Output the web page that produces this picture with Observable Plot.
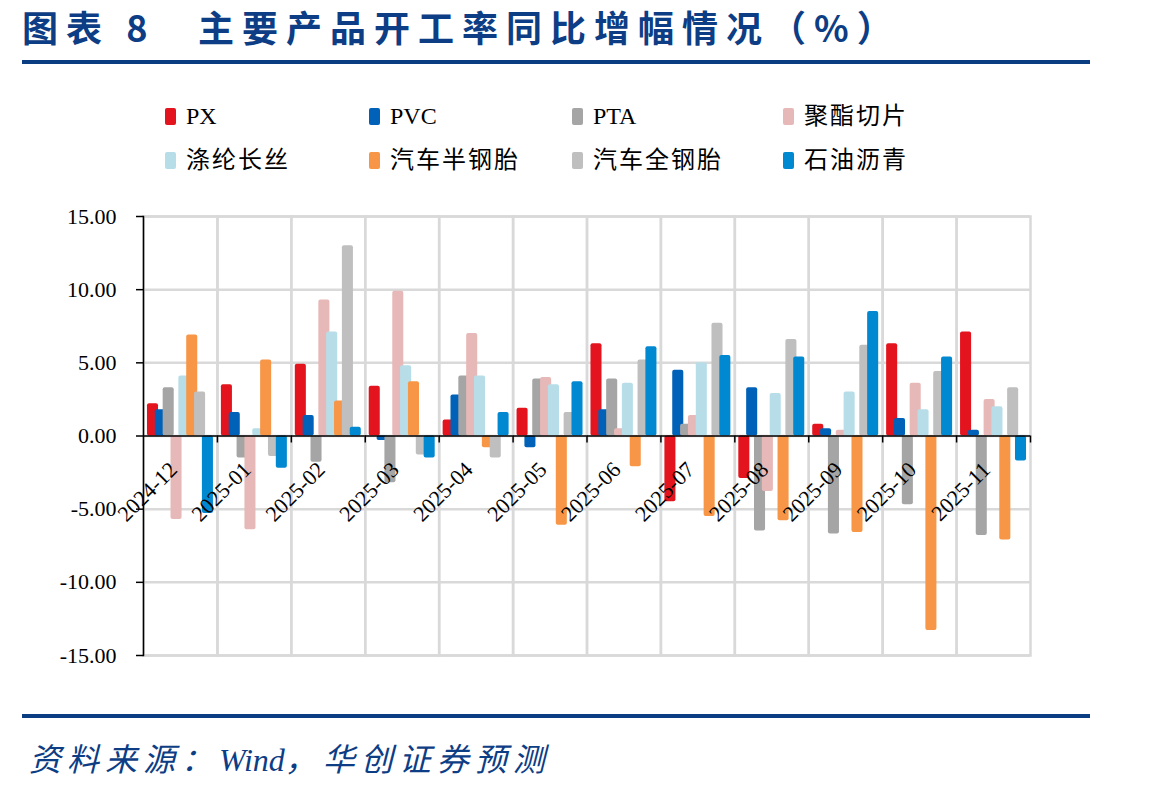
<!DOCTYPE html>
<html>
<head>
<meta charset="utf-8">
<script src="https://cdn.jsdelivr.net/npm/d3@7"></script>
<script src="https://cdn.jsdelivr.net/npm/@observablehq/plot@0.6"></script>
<style>
  html, body { margin: 0; padding: 0; background: #fff; }
  #root { position: relative; width: 1149px; height: 792px; overflow: hidden; background: #fff; }
  .abs { position: absolute; white-space: nowrap; }
  .title { font-family: "Noto Sans CJK SC", sans-serif; font-weight: 700; font-size: 36px; line-height: 36px; color: #0D3D84; letter-spacing: 8px; }
  .rule { position: absolute; left: 22px; width: 1068px; height: 4px; background: #0B3D82; }
  .leg { position: absolute; display: flex; align-items: center; font-family: "Liberation Serif", "Noto Sans CJK SC", serif; font-size: 24px; color: #000; line-height: 26px; }
  .leg .cjk { letter-spacing: 2px; }
  .sw { width: 11px; height: 17px; border-radius: 2px; margin-right: 10px; }
  .src { font-family: "Liberation Serif", "Noto Sans CJK SC", serif; font-style: italic; font-size: 32px; line-height: 36px; color: #0D3D84; }
  .src .cjk { letter-spacing: 6px; }
  #chart { position: absolute; left: 0; top: 200px; }
</style>
</head>
<body>
<div id="root">
  <div class="abs title" style="left:22px; top:8px;">图表 8</div>
  <div class="abs title" style="left:198px; top:8px;">主要产品开工率同比增幅情况（%）</div>
  <div class="rule" style="top:60px;"></div>
  <div id="legend"></div>
  <div id="chart"></div>
  <div class="rule" style="top:714px;"></div>
  <div class="abs src" style="left:29px; top:742px;"><span class="cjk">资料来源：</span>Wind<span class="cjk">，华创证券预测</span></div>
</div>
<script>
const months = ["2024-12","2025-01","2025-02","2025-03","2025-04","2025-05","2025-06","2025-07","2025-08","2025-09","2025-10","2025-11"];
const seriesNames = ["PX","PVC","PTA","聚酯切片","涤纶长丝","汽车半钢胎","汽车全钢胎","石油沥青"];
const seriesColors = ["#E3141E","#0061B8","#A5A5A5","#E6B9B8","#B7DEE8","#F79646","#BFBFBF","#0088D1"];
const yTicks = [-15, -10, -5, 0, 5, 10, 15];

const pxValues        = [2.2, 3.5, 4.9, 3.4, 1.1, 1.9, 6.3, -4.5, -2.9, 0.8, 6.3, 7.1];
const pvcValues       = [1.8, 1.6, 1.4, -0.3, 2.8, -0.8, 1.8, 4.5, 3.3, 0.5, 1.2, 0.4];
const ptaValues       = [3.3, -1.5, -1.8, -3.2, 4.1, 3.9, 3.9, 0.8, -6.5, -6.7, -4.7, -6.8];
const polyesterChips  = [-5.7, -6.4, 9.3, 9.9, 7.0, 4.0, 0.5, 1.4, -3.8, 0.4, 3.6, 2.5];
const polyesterYarn   = [4.1, 0.5, 7.1, 4.8, 4.1, 3.5, 3.6, 5.0, 2.9, 3.0, 1.8, 2.0];
const semiSteelTire   = [6.9, 5.2, 2.4, 3.7, -0.8, -6.1, -2.1, -5.5, -5.8, -6.6, -13.3, -7.1];
const allSteelTire    = [3.0, -1.4, 13.0, -1.3, -1.5, 1.6, 5.2, 7.7, 6.6, 6.2, 4.4, 3.3];
const asphaltValues   = [-5.3, -2.2, 0.6, -1.5, 1.6, 3.7, 6.1, 5.5, 5.4, 8.5, 5.4, -1.7];

const valueArrays = [pxValues, pvcValues, ptaValues, polyesterChips, polyesterYarn, semiSteelTire, allSteelTire, asphaltValues];
const data = months.flatMap((m, i) => seriesNames.map((s, j) => ({month: m, series: s, value: valueArrays[j][i]})));

// legend
const legend = document.getElementById("legend");
const legCols = [165, 369, 572, 783];
const legRows = [103, 147];
seriesNames.forEach((s, j) => {
  const el = document.createElement("div");
  el.className = "leg";
  el.style.left = legCols[j % 4] + "px";
  el.style.top = legRows[Math.floor(j / 4)] + "px";
  const isLatin = /^[A-Za-z]+$/.test(s);
  el.innerHTML = `<span class="sw" style="background:${seriesColors[j]}"></span><span class="${isLatin ? "" : "cjk"}">${s}</span>`;
  legend.appendChild(el);
});

const W = 1149, H = 480, ML = 143, MR = 119, MT = 16, MB = 25;
const paddingOuter = 0.71;
const facetW = (W - ML - MR) / months.length;
const step = facetW / (seriesNames.length + 2 * paddingOuter);
const tickDx = facetW - (paddingOuter + seriesNames.length - 0.5) * step;

const chart = Plot.plot({
  width: W, height: H,
  marginLeft: ML, marginRight: MR, marginTop: MT, marginBottom: MB,
  style: {fontFamily: "Liberation Serif, serif", fontSize: "22px", color: "#000", background: "transparent"},
  fx: {domain: months, padding: 0, round: false, axis: null},
  x: {domain: seriesNames, paddingInner: 0, paddingOuter: paddingOuter, round: false, axis: null},
  y: {domain: [-15, 15], axis: null},
  color: {domain: seriesNames, range: seriesColors},
  marks: [
    Plot.gridY(yTicks, {stroke: "#D9D9D9", strokeOpacity: 1, strokeWidth: 2.5}),
    Plot.frame({stroke: "#D9D9D9", strokeOpacity: 1, strokeWidth: 2.5}),
    Plot.barY(data, {fx: "month", x: "series", y: "value", fill: "series", insetLeft: -1.6, insetRight: -1.6, rx: 2}),
    Plot.ruleY([0], {stroke: "#000", strokeWidth: 1.5}),
    Plot.ruleX(months, {fx: d => d, x: () => seriesNames[seriesNames.length - 1], y1: () => 0, y2: () => 0, insetBottom: -7, dx: tickDx, stroke: "#000", strokeWidth: 1.5}),
    Plot.frame({anchor: "left", stroke: "#000", strokeWidth: 1.5, facetAnchor: "left"}),
    Plot.axisY(yTicks, {label: null, tickFormat: d => d.toFixed(2), tickSize: 7, tickPadding: 20, fontSize: 22, stroke: "#000", strokeWidth: 1.5}),
    Plot.text(months, {fx: d => d, y: () => 0, text: d => d, rotate: -45, textAnchor: "end", dx: -7, dy: 30, fontSize: 22, fill: "#000"})
  ]
});
document.getElementById("chart").appendChild(chart);
</script>
</body>
</html>
